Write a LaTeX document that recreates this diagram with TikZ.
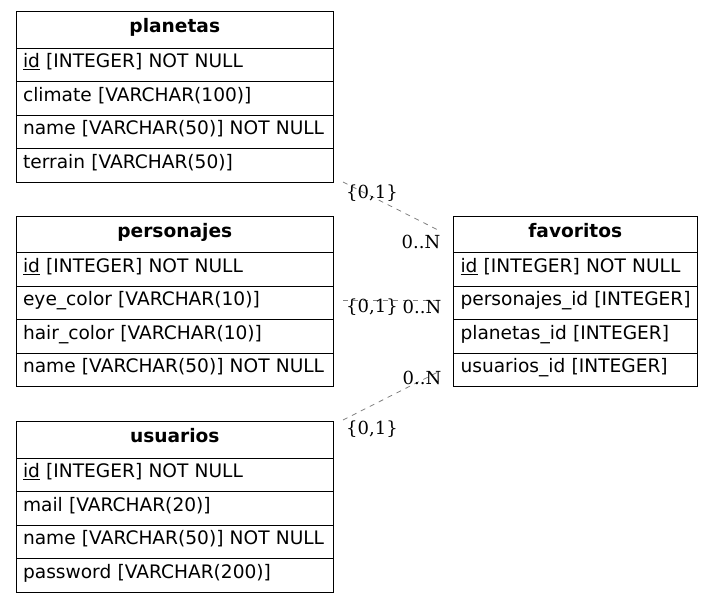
\documentclass[tikz,border=0pt]{standalone}
\usepackage{fontspec}
\newfontfamily\tabfont{DejaVu Sans}
\newfontfamily\cardfont{DejaVu Serif}
\usetikzlibrary{positioning}
\begin{document}
\begin{tikzpicture}[x=1pt,y=-1pt]
    \tikzset{cell/.style={draw,line width=1.1pt,anchor=north west,inner sep=0pt,
        text height=13pt,text depth=7pt,font=\tabfont\fontsize{18.6}{22}\selectfont},
      head/.style={cell,minimum width=#1,minimum height=36.5pt,
        font=\tabfont\bfseries\fontsize{18.6}{22}\selectfont},
      row/.style={cell,text width=#1,inner xsep=7pt,minimum height=33.5pt,align=left,
        execute at begin node={\hbox\bgroup},execute at end node={\egroup}},
      card/.style={inner sep=0pt,font=\cardfont\fontsize{18}{20}\selectfont},
      rel/.style={gray,line width=0.8pt,dash pattern=on 5pt off 5pt}};
    \useasboundingbox (0,0) rectangle (712,603);
    % planetas
    \node[head=317.5pt] (planetas) at (15.5,11) {planetas};
    \node[row=303.5pt] (planetas1) at (15.5,47.5) {\underline{id} [INTEGER] NOT NULL};
    \node[row=303.5pt] (planetas2) at (15.5,81) {climate [VARCHAR(100)]};
    \node[row=303.5pt] (planetas3) at (15.5,114.5) {name [VARCHAR(50)] NOT NULL};
    \node[row=303.5pt] (planetas4) at (15.5,148) {terrain [VARCHAR(50)]};
    % personajes
    \node[head=317.5pt] (personajes) at (15.5,215.5) {personajes};
    \node[row=303.5pt] (personajes1) at (15.5,252) {\underline{id} [INTEGER] NOT NULL};
    \node[row=303.5pt] (personajes2) at (15.5,285.5) {eye\_color [VARCHAR(10)]};
    \node[row=303.5pt] (personajes3) at (15.5,319) {hair\_color [VARCHAR(10)]};
    \node[row=303.5pt] (personajes4) at (15.5,352.5) {name [VARCHAR(50)] NOT NULL};
    % usuarios
    \node[head=317.5pt] (usuarios) at (15.5,421) {usuarios};
    \node[row=303.5pt] (usuarios1) at (15.5,457.5) {\underline{id} [INTEGER] NOT NULL};
    \node[row=303.5pt] (usuarios2) at (15.5,491) {mail [VARCHAR(20)]};
    \node[row=303.5pt] (usuarios3) at (15.5,524.5) {name [VARCHAR(50)] NOT NULL};
    \node[row=303.5pt] (usuarios4) at (15.5,558) {password [VARCHAR(200)]};
    % favoritos
    \node[head=243.5pt] (favoritos) at (453,215.5) {favoritos};
    \node[row=229.5pt] (favoritos1) at (453,252) {\underline{id} [INTEGER] NOT NULL};
    \node[row=229.5pt] (favoritos2) at (453,285.5) {personajes\_id [INTEGER]};
    \node[row=229.5pt] (favoritos3) at (453,319) {planetas\_id [INTEGER]};
    \node[row=229.5pt] (favoritos4) at (453,352.5) {usuarios\_id [INTEGER]};
    % relations
    \coordinate (pl-out) at (343,182);
    \coordinate (fa-in1) at (440,231);
    \coordinate (pe-out) at (343,300);
    \coordinate (fa-in2) at (440,300);
    \coordinate (us-out) at (343,420);
    \coordinate (fa-in3) at (440,371);
    \draw[rel] (pl-out) -- (fa-in1);
    \draw[rel] (pe-out) -- (fa-in2);
    \draw[rel] (us-out) -- (fa-in3);
    \node[card] (pl-card) at (372,193) {\{0,1\}};
    \node[card] (fa-card1) at (421,242) {0..N};
    \node[card] (pe-card) at (372,307) {\{0,1\}};
    \node[card] (fa-card2) at (422,307) {0..N};
    \node[card] (fa-card3) at (422,378) {0..N};
    \node[card] (us-card) at (372,429.5) {\{0,1\}};
  \end{tikzpicture}
\end{document}
